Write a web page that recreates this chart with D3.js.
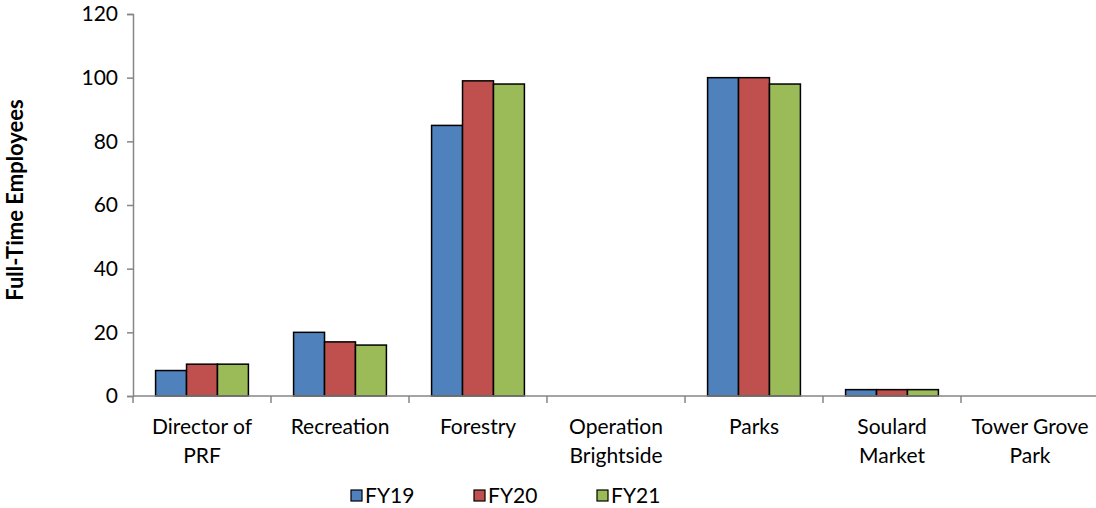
<!DOCTYPE html>
<html>
<head>
<meta charset="utf-8">
<script src="https://cdn.jsdelivr.net/npm/d3@7"></script>
<style>
  html, body { margin: 0; padding: 0; background: #fff; }
  svg { display: block; }
  text { font-family: Lato, "Open Sans", "Liberation Sans", sans-serif; fill: #000; }
</style>
</head>
<body>
<svg id="chart" width="1096" height="508"></svg>
<script>
// Full-time employees by division, FY19–FY21
const categories = [
  ["Director of", "PRF"],
  ["Recreation"],
  ["Forestry"],
  ["Operation", "Brightside"],
  ["Parks"],
  ["Soulard", "Market"],
  ["Tower Grove", "Park"]
];
const seriesNames = ["FY19", "FY20", "FY21"];
const fy19 = [8, 20, 85, 0, 100, 2, 0];
const fy20 = [10, 17, 99, 0, 100, 2, 0];
const fy21 = [10, 16, 98, 0, 98, 2, 0];
const seriesColors = ["#4F81BD", "#C0504D", "#9BBB59"];
const yTicks = [0, 20, 40, 60, 80, 100, 120];

const seriesValues = [fy19, fy20, fy21];
const svg = d3.select("#chart");

const x = d3.scaleBand()
  .domain(d3.range(categories.length))
  .range([133, 1099])
  .paddingInner(0)
  .paddingOuter(0);

const xInner = d3.scaleBand()
  .domain(seriesNames)
  .range([0, x.bandwidth()])
  .paddingOuter(0.73)
  .paddingInner(0);

const y = d3.scaleLinear().domain([0, 120]).range([396, 14]);

// Y axis
const yAxis = svg.append("g")
  .attr("transform", "translate(133,0)")
  .call(d3.axisLeft(y).tickValues(yTicks).tickSize(6).tickPadding(9));
yAxis.select(".domain").attr("stroke", "#868686").attr("stroke-width", 1.5);
yAxis.selectAll(".tick line").attr("stroke", "#868686").attr("stroke-width", 1.5);
yAxis.selectAll(".tick text").style("font-size", "21px").style("font-family", "Lato, 'Open Sans', sans-serif");

// Bars
const groups = svg.append("g").selectAll("g")
  .data(categories.map((c, i) => i))
  .join("g")
  .attr("transform", i => `translate(${x(i)},0)`);

groups.selectAll("rect")
  .data(i => seriesNames.map((s, k) => ({ s, k, v: seriesValues[k][i] })))
  .join("rect")
  .filter(d => d.v > 0)
  .attr("x", d => xInner(d.s))
  .attr("width", xInner.bandwidth())
  .attr("y", d => y(d.v))
  .attr("height", d => y(0) - y(d.v))
  .attr("fill", d => seriesColors[d.k])
  .attr("stroke", "#000")
  .attr("stroke-width", 1.5);

// X axis
const xAxis = svg.append("g").attr("transform", `translate(0,${y(0)})`);
xAxis.append("line")
  .attr("x1", 133).attr("x2", 1099)
  .attr("stroke", "#868686").attr("stroke-width", 1.5);
xAxis.selectAll("line.tick")
  .data(d3.range(categories.length + 1))
  .join("line")
  .attr("class", "tick")
  .attr("x1", i => 133 + i * x.bandwidth())
  .attr("x2", i => 133 + i * x.bandwidth())
  .attr("y1", 0).attr("y2", 7)
  .attr("stroke", "#868686").attr("stroke-width", 1.5);

const labels = xAxis.selectAll("text.cat")
  .data(categories)
  .join("text")
  .attr("class", "cat")
  .attr("text-anchor", "middle")
  .style("font-size", "21px")
  .attr("transform", (d, i) => `translate(${x(i) + x.bandwidth() / 2},38)`);
labels.selectAll("tspan")
  .data(d => d)
  .join("tspan")
  .attr("x", 0)
  .attr("y", (d, j) => j * 29)
  .text(d => d);

// Y axis title
svg.append("text")
  .attr("transform", "translate(23,200) rotate(-90)")
  .attr("text-anchor", "middle")
  .style("font-size", "22px")
  .style("font-weight", "bold")
  .text("Full-Time Employees");

// Legend
const legendX = [351, 474, 597];
const legend = svg.append("g").selectAll("g")
  .data(seriesNames)
  .join("g")
  .attr("transform", (d, i) => `translate(${legendX[i]},490)`);
legend.append("rect")
  .attr("width", 11).attr("height", 11)
  .attr("fill", (d, i) => seriesColors[i])
  .attr("stroke", "#000").attr("stroke-width", 1.2);
legend.append("text")
  .attr("x", 14).attr("y", 13)
  .style("font-size", "21px")
  .text(d => d);
</script>
</body>
</html>
